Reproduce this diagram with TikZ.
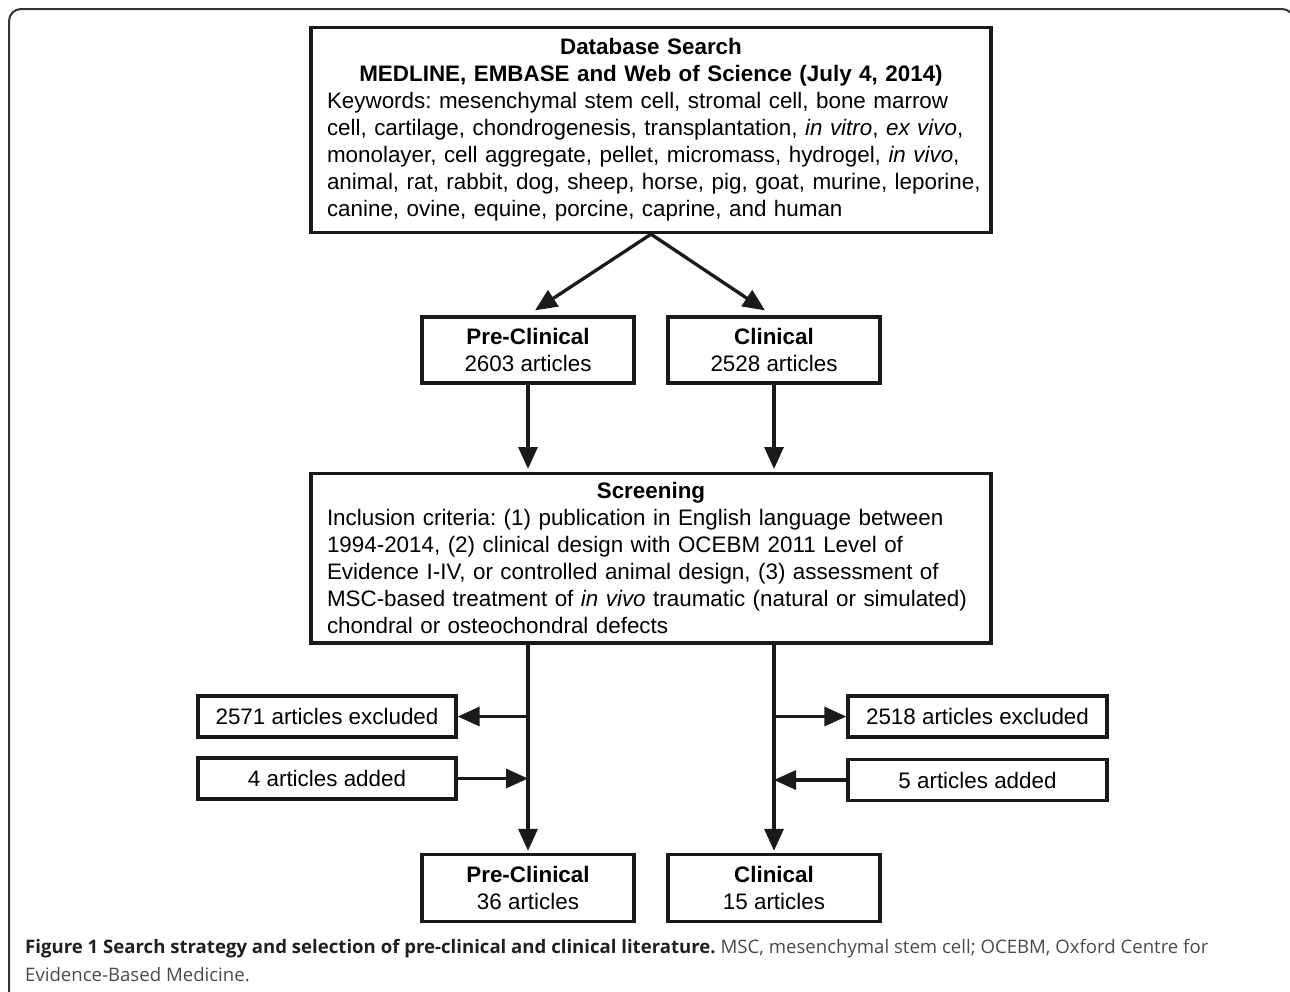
\documentclass[tikz,border=0pt]{standalone}
\usepackage{fontspec}
\setmainfont{Liberation Sans}
\newfontfamily\capfont{Open Sans}
\usetikzlibrary{arrows.meta,calc}
\definecolor{ink}{HTML}{1A1A1A}
\definecolor{capbold}{HTML}{231F20}
\definecolor{capreg}{HTML}{4A4A4A}
\frenchspacing
\begin{document}
\begin{tikzpicture}[x=1pt,y=-1pt,
  box/.style={draw=ink, line width=3.3pt, fill=white, inner sep=0pt, align=center,
    font=\fontsize{22.4}{27}\selectfont},
  bigbox/.style={draw=ink, line width=3.3pt, fill=white, text width=648pt,
    inner xsep=16pt, font=\fontsize{22.4}{27}\selectfont},
  arr/.style={draw=ink, line width=3.3pt, -{Triangle[length=22pt,width=19pt]}},
]
\useasboundingbox (0,0) rectangle (1290,991);
\begin{scope}
  \clip (0,0) rectangle (1290,991);
  \draw[line width=2pt, draw=black!80, rounded corners=12pt]
    (9,1020) -- (9,9) -- (1294,9) -- (1294,1020);
\end{scope}

% top box
\node[bigbox, anchor=north, inner ysep=11pt] (db) at (651,26) {%
  {\centering\bfseries Database Search\\MEDLINE, EMBASE and Web of Science (July 4, 2014)\par}%
  \raggedright
  \mbox{Keywords: mesenchymal stem cell, stromal cell, bone marrow}\\
  \mbox{cell, cartilage, chondrogenesis, transplantation, \textit{in vitro}, \textit{ex vivo},}\\
  \mbox{monolayer, cell aggregate, pellet, micromass, hydrogel, \textit{in vivo},}\\
  \mbox{animal, rat, rabbit, dog, sheep, horse, pig, goat, murine, leporine,}\\
  \mbox{canine, ovine, equine, porcine, caprine, and human}};

% first level
\node[box, minimum width=212pt, minimum height=66pt] (pc1) at (528,350)
  {\textbf{Pre-Clinical}\\2603 articles};
\node[box, minimum width=212pt, minimum height=66pt] (c1) at (774,350)
  {\textbf{Clinical}\\2528 articles};

% screening
\node[bigbox, anchor=north, inner ysep=9pt] (scr) at (651,472) {%
  {\centering\bfseries Screening\par}%
  \raggedright
  \mbox{Inclusion criteria: (1) publication in English language between}\\
  \mbox{1994-2014, (2) clinical design with OCEBM 2011 Level of}\\
  \mbox{Evidence I-IV, or controlled animal design, (3) assessment of}\\
  \mbox{MSC-based treatment of \textit{in vivo} traumatic (natural or simulated)}\\
  \mbox{chondral or osteochondral defects}};

% side boxes
\node[box, minimum width=258pt, minimum height=41pt] (exL) at (327,716.5) {2571 articles excluded};
\node[box, minimum width=258pt, minimum height=41pt] (adL) at (327,778.5) {4 articles added};
\node[box, minimum width=259pt, minimum height=41pt] (exR) at (977.5,716.5) {2518 articles excluded};
\node[box, minimum width=259pt, minimum height=41pt] (adR) at (977.5,780) {5 articles added};

% final
\node[box, minimum width=212pt, minimum height=67pt] (pf) at (528,888)
  {\textbf{Pre-Clinical}\\36 articles};
\node[box, minimum width=212pt, minimum height=67pt] (cf) at (774,888)
  {\textbf{Clinical}\\15 articles};

% connectors
\draw[arr] (db.south) -- ($(pc1.north)+(7,-5)$);
\draw[arr] (db.south) -- ($(c1.north)+(-9,-5)$);
\draw[arr] (pc1.south) -- ([yshift=3pt]pc1.south |- scr.north);
\draw[arr] (c1.south) -- ([yshift=3pt]c1.south |- scr.north);
\draw[arr] (pf.north |- scr.south) -- ([yshift=2pt]pf.north);
\draw[arr] (cf.north |- scr.south) -- ([yshift=2pt]cf.north);
\draw[arr] (pf.north |- exL.east) -- (exL.east);
\draw[arr] (adL.east) -- (pf.north |- adL.east);
\draw[arr] (cf.north |- exR.west) -- (exR.west);
\draw[arr] (adR.west) -- (cf.north |- adR.west);

% caption
\node[anchor=north west, inner sep=0pt, align=left,
  font=\capfont\fontsize{18.6}{28}\selectfont] (cap) at (25,939)
  {\textcolor{capbold}{\bfseries Figure 1 Search strategy and selection of pre-clinical and clinical literature.}
   \textcolor{capreg}{MSC, mesenchymal stem cell; OCEBM, Oxford Centre for}\\
   \textcolor{capreg}{Evidence-Based Medicine.}};
\end{tikzpicture}
\end{document}
